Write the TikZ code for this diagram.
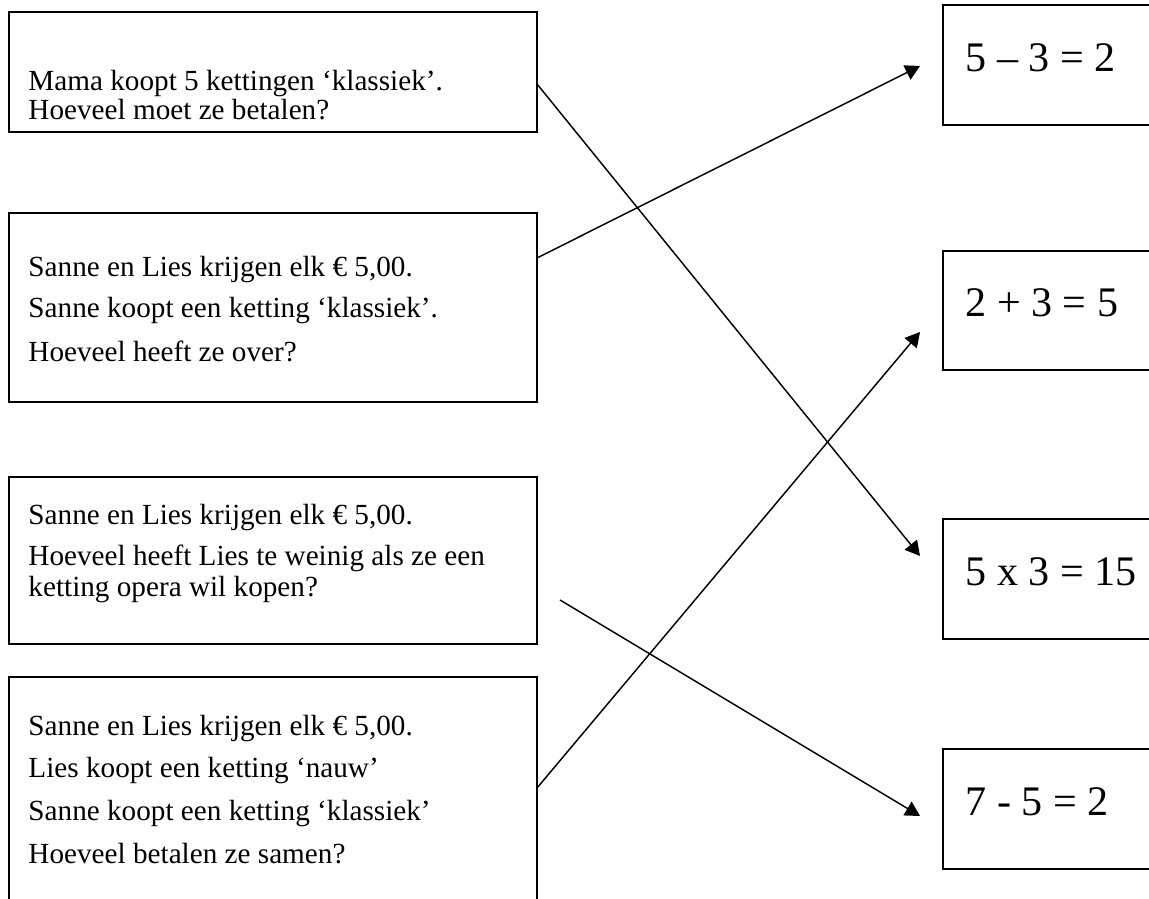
\documentclass[tikz,border=0pt]{standalone}
\usepackage{fontspec}
\setmainfont{Liberation Serif}
\usetikzlibrary{arrows.meta,fit}
\begin{document}
\begin{tikzpicture}[x=0.411pt,y=-0.411pt,
  box/.style={draw,line width=0.8pt,inner sep=0pt,outer sep=0pt},
  txt/.style={anchor=base west,inner sep=0pt,font=\fontsize{12}{14}\selectfont},
  big/.style={anchor=base west,inner sep=0pt,font=\fontsize{17.3}{20}\selectfont},
  conn/.style={line width=0.6pt,-{Triangle[length=6pt,width=6.5pt]}}]
\useasboundingbox (0,0) rectangle (1149,899);
\clip (0,0) rectangle (1149,899);
% left boxes
\node[box,fit={(9,12) (537,132)}] (A) {};
\node[box,fit={(9,213) (537,402)}] (B) {};
\node[box,fit={(9,477) (537,644)}] (C) {};
\node[box,fit={(9,677) (537,930)}] (D) {};
% right boxes
\node[box,fit={(943,5) (1170,125)}] (E) {};
\node[box,fit={(943,251) (1170,370)}] (F) {};
\node[box,fit={(943,519) (1170,639)}] (G) {};
\node[box,fit={(943,749) (1170,869)}] (H) {};
% texts
\node[txt] (a1) at (28,91) {Mama koopt 5 kettingen ‘klassiek’.};
\node[txt] (a2) at (28,120) {Hoeveel moet ze betalen?};
\node[txt] (b1) at (28,277) {Sanne en Lies krijgen elk € 5,00.};
\node[txt] (b2) at (28,318) {Sanne koopt een ketting ‘klassiek’.};
\node[txt] (b3) at (28,362) {Hoeveel heeft ze over?};
\node[txt] (c1) at (28,525) {Sanne en Lies krijgen elk € 5,00.};
\node[txt] (c2) at (28,566) {Hoeveel heeft Lies te weinig als ze een};
\node[txt] (c3) at (28,597) {ketting opera wil kopen?};
\node[txt] (d1) at (28,736) {Sanne en Lies krijgen elk € 5,00.};
\node[txt] (d2) at (28,778) {Lies koopt een ketting ‘nauw’};
\node[txt] (d3) at (28,821) {Sanne koopt een ketting ‘klassiek’};
\node[txt] (d4) at (28,864) {Hoeveel betalen ze samen?};
\node[big] (e1) at (965,72) {5 – 3 = 2};
\node[big] (f1) at (965,317) {2 + 3 = 5};
\node[big] (g1) at (965,586) {5 x 3 = 15};
\node[big] (h1) at (965,816) {7 - 5 = 2};
% connector ends
\coordinate (sA) at (537,84);
\coordinate (sB) at (537,258);
\coordinate (sC) at (560,600);
\coordinate (sD) at (537,788);
\coordinate (tE) at (920,66);
\coordinate (tF) at (920,332);
\coordinate (tG) at (920,556);
\coordinate (tH) at (920,816);
\draw[conn] (sA) -- (tG);
\draw[conn] (sB) -- (tE);
\draw[conn] (sC) -- (tH);
\draw[conn] (sD) -- (tF);
\end{tikzpicture}
\end{document}
